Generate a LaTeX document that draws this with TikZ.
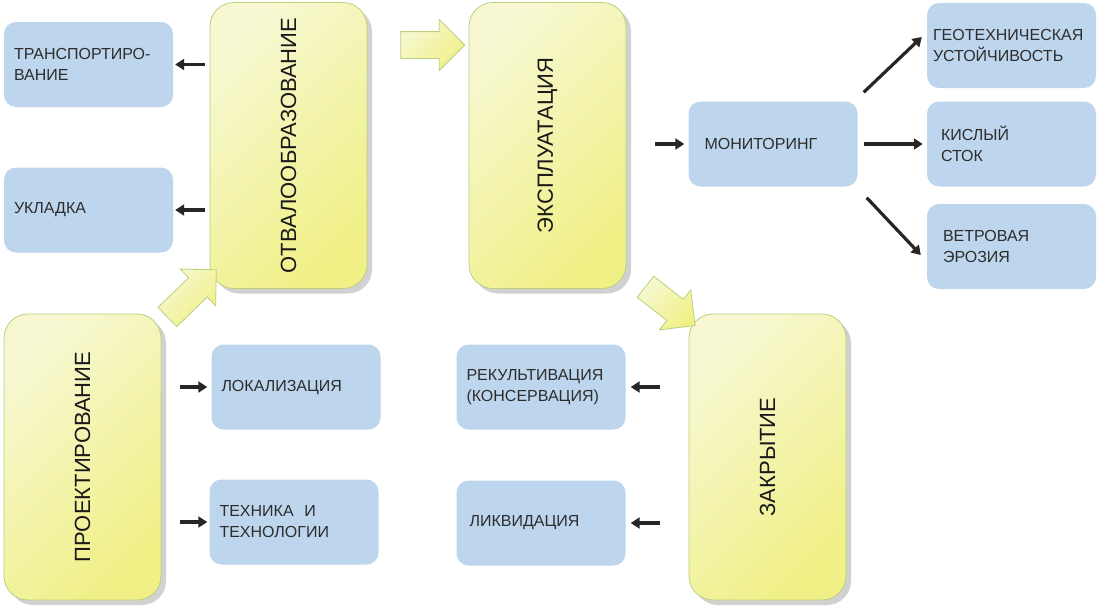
\documentclass[tikz,border=0pt]{standalone}
\usepackage{fontspec}
\setmainfont{Liberation Sans}
\usetikzlibrary{arrows.meta,shapes.arrows,shadows}

\definecolor{boxblue}{RGB}{189,214,237}
\definecolor{ylight}{RGB}{247,248,210}
\definecolor{ydark}{RGB}{240,240,135}
\definecolor{ygreen}{RGB}{185,208,125}
\definecolor{txtgray}{RGB}{45,45,45}

\begin{document}
\begin{tikzpicture}[x=1pt,y=-1pt,
  stadia/.style={rectangle,rounded corners=24pt,draw=ygreen,line width=0.8pt,
    top color=ylight,bottom color=ydark,shading angle=45,
    minimum width=157pt,minimum height=286pt,inner sep=0pt,
    font=\fontsize{22}{26}\selectfont,text=black!90,
    drop shadow={shadow xshift=5pt,shadow yshift=-5pt,fill=black!30,opacity=0.6}},
  blok/.style={rectangle,rounded corners=12pt,fill=boxblue,
    minimum height=85pt,text width=149pt,inner xsep=10pt,align=left,
    font=\fontsize{16}{21}\selectfont,text=txtgray},
  strelka/.style={line width=3.2pt,black!85,-{Triangle[length=9pt,width=11pt]}},
  perehod/.style={single arrow,single arrow head extend=12pt,inner sep=13pt,
    draw=ygreen,line width=0.8pt,top color=ylight,bottom color=ydark,shading angle=45}
]
\useasboundingbox (0,0) rectangle (1102,611);

% stages
\node[stadia] (otv) at (288.5,145.5) {\rotatebox{90}{ОТВАЛООБРАЗОВАНИЕ}};
\node[stadia] (exp) at (547.5,145.5) {\rotatebox{90}{ЭКСПЛУАТАЦИЯ}};
\node[stadia] (pro) at (82.5,457) {\rotatebox{90}{ПРОЕКТИРОВАНИЕ}};
\node[stadia] (zak) at (767.5,457) {\rotatebox{90}{ЗАКРЫТИЕ}};

\node[perehod,minimum height=64pt] (p1) at (426,45) {};
\node[perehod,minimum height=68pt,rotate=44] (p2) at (187,298) {};
\node[perehod,minimum height=63pt,rotate=-38] (p3) at (665,302) {};

% sub-tasks
\node[blok] (tr) at (88.5,64.5) {ТРАНСПОРТИРО-\\ВАНИЕ};
\node[blok] (ukl) at (88.5,210) {УКЛАДКА};
\node[blok] (lok) at (296,387) {ЛОКАЛИЗАЦИЯ};
\node[blok] (teh) at (294,522) {ТЕХНИКА\ \ И\\ТЕХНОЛОГИИ};
\node[blok] (mon) at (773,144) {\hspace*{6pt}МОНИТОРИНГ};
\node[blok,text width=157pt,inner xsep=6pt] (geo) at (1011.5,45.5) {ГЕОТЕХНИЧЕСКАЯ\\УСТОЙЧИВОСТЬ};
\node[blok] (kis) at (1011.5,144) {\hspace*{4pt}КИСЛЫЙ\\\hspace*{4pt}СТОК};
\node[blok] (vet) at (1011.5,246.5) {\hspace*{6pt}ВЕТРОВАЯ\\\hspace*{6pt}ЭРОЗИЯ};
\node[blok] (rek) at (541,387) {РЕКУЛЬТИВАЦИЯ\\(КОНСЕРВАЦИЯ)};
\node[blok] (lik) at (541,523) {\hspace*{3pt}ЛИКВИДАЦИЯ};

\draw[strelka] ([xshift=-5pt]otv.west |- tr) -- ([xshift=2pt]tr.east);
\draw[strelka] ([xshift=-5pt]otv.west |- ukl) -- ([xshift=2pt]ukl.east);
\draw[strelka] ([xshift=19pt]pro.east |- lok) -- ([xshift=-4pt]lok.west);
\draw[strelka] ([xshift=19pt]pro.east |- teh) -- ([xshift=-2pt]teh.west);
\draw[strelka] ([xshift=29pt]exp.east |- mon) -- ([xshift=-4pt]mon.west);
\draw[strelka] ([shift={(6,-9)}]mon.north east) -- ([shift={(-5,-8.5)}]geo.west);
\draw[strelka] ([xshift=6pt]mon.east) -- ([xshift=-4pt]kis.west);
\draw[strelka] ([shift={(9,11)}]mon.south east) -- ([shift={(-6,8.5)}]vet.west);
\draw[strelka] ([xshift=-29pt]zak.west |- rek) -- ([xshift=5pt]rek.east);
\draw[strelka] ([xshift=-29pt]zak.west |- lik) -- ([xshift=5pt]lik.east);
\end{tikzpicture}
\end{document}
